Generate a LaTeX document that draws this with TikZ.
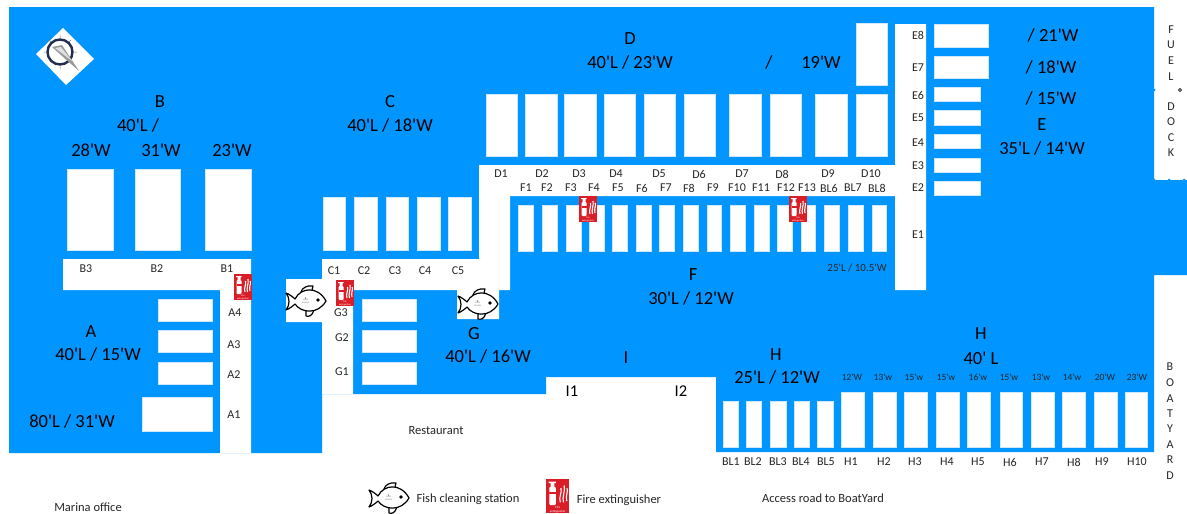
\documentclass[tikz,border=0pt]{standalone}
\usepackage{fontspec}
\setmainfont[Ligatures=TeXOff]{Carlito}
\definecolor{water}{RGB}{0,149,255}
\definecolor{slipedge}{RGB}{205,232,255}
\definecolor{firered}{RGB}{218,30,40}
\definecolor{navy}{RGB}{35,45,80}
\tikzset{
	slip/.style={fill=white,draw=slipedge,line width=.5pt},
	biglab/.style={font=\fontsize{18.5}{20}\selectfont,text=black,inner sep=0pt},
	lab/.style={font=\fontsize{12}{13}\selectfont,text=black!85,inner sep=0pt},
	tinylab/.style={font=\fontsize{9.5}{10}\selectfont,text=black!85,inner sep=0pt},
	note/.style={font=\fontsize{12.5}{14}\selectfont,text=black!85,inner sep=0pt},
	fishpic/.pic={
		\draw[line width=1.2pt,line join=round] (-5,-9) .. controls (-4,-13) and (1,-16) .. (7,-15)
		.. controls (5,-13) and (6,-11) .. (9,-8);
		\draw[line width=1.2pt,line join=round] (0,8) -- (0,15) .. controls (3,16) and (6,15) .. (8,9);
		\draw[line width=1.2pt,fill=white,line join=round] (-20,-8) .. controls (-17,-7) and (-13,-4) .. (-11,-2)
		.. controls (-5,-14) and (12,-15) .. (20,0)
		.. controls (12,14) and (-5,12) .. (-11,3)
		.. controls (-13,5) and (-17,8) .. (-20,9)
		.. controls (-16,4) and (-16,-3) .. cycle;
		\fill (12,-1) circle(1.8);
		\draw[gray,line width=.5pt] (-3,-2) -- (2,-2) (-4,1) -- (3,1) (-1,-4) -- (0,-2);
	},
	firepic/.pic={
		\fill[firered] (0,0) rectangle (17.5,26);
		\fill[white,rounded corners=1] (2.5,6) rectangle (7.5,20);
		\fill[white] (3.5,3) rectangle (6.5,6) (2,2) rectangle (7.5,3.2);
		\fill[firered] (2.5,10) rectangle (7.5,11.5);
		\draw[white,line width=1.1pt] (11,18) .. controls (9.5,14) and (12.5,11) .. (11.5,7)
		(13.5,18) .. controls (12,14) and (15,10) .. (14,5)
		(16,17) .. controls (14.8,13) and (17.2,10) .. (16.2,7);
		\node[transform shape,white,font=\fontsize{2.4}{2.6}\selectfont,align=center,inner sep=0pt] (firetext) at (9,23.5) {Fire\\extinguisher};
	}
}
\begin{document}
\begin{tikzpicture}[x=1pt,y=-1pt]
	\useasboundingbox[fill=white] (0,0) rectangle (1187,514);
	\fill[water] (9,7)--(1154,7)--(1154,180)--(1187,180)--(1187,275)--(1154,275)--(1154,452)--(716,452)--(716,377)--(546,377)--(546,394)--(322,394)--(322,453)--(9,453)--cycle;
	\fill[white] (63,259)--(251,259)--(251,453)--(220,453)--(220,290)--(63,290)--cycle;
	\fill[white] (322,259)--(479,259)--(479,165)--(895,165)--(895,24)--(926,24)--(926,290)--(895,290)--(895,196)--(510,196)--(510,290)--(353,290)--(353,394)--(322,394)--cycle;
	\fill[white] (286,279) rectangle (322,322) (457,289) rectangle (499,319);
	\fill[water] (1154,90) circle(1.5) (1154,180) circle(1.5) (1169,180) circle(1.5) (1184,180) circle(1.5);
	\draw[black!80,line width=.8pt] (1180,90) circle(1.5);
	\foreach \xa/\xb in {67/113,135/180,205/251}
		\draw[slip] (\xa,169) rectangle (\xb,250);
	\foreach \xa/\xb in {323/345,354/377,386/408,417/440,448/471}
		\draw[slip] (\xa,197) rectangle (\xb,250);
	\foreach \ya/\yb in {299/321,330/352,362/384}{
		\draw[slip] (158,\ya) rectangle (212,\yb);
		\draw[slip] (362,\ya) rectangle (416,\yb);
	}
	\draw[slip] (142,397) rectangle (212,431);
	\foreach \xa/\xb in {486/517,525/557,564/596,604/635,644/675,684/715,729/761,770/801,815/847,856/887}
		\draw[slip] (\xa,94) rectangle (\xb,156);
	\draw[slip] (856,23) rectangle (887,85);
	\foreach \xa/\xb in {518/533,542/557,566/581,589/604,612/627,636/651,659/674,683/698,707/721,730/745,754/769,777/792,801/815,824/839,848/863,872/886}
		\draw[slip] (\xa,205) rectangle (\xb,251);
	\draw[slip] (934,24) rectangle (988,47) (934,56) rectangle (988,78);
	\foreach \ya/\yb in {87/101,110/125,134/148,158/172,181/195}
		\draw[slip] (934,\ya) rectangle (980,\yb);
	\foreach \xa/\xb in {723/738,746/761,770/786,794/809,817/833}
		\draw[slip] (\xa,401) rectangle (\xb,447);
	\foreach \xa/\xb in {841/864,873/896,904/927,936/959,967/990,1000/1022,1031/1054,1062/1085,1094/1117,1125/1147}
		\draw[slip] (\xa,392) rectangle (\xb,447);
	\fill[white] (63,28)--(94,59)--(66,85)--(36,54)--cycle;
	\draw[navy,line width=2.4pt] (60,52) circle(12.5);
	\draw[gray,line width=.5pt] (60,35)--(60,38) (60,66)--(60,69) (44,52)--(46,52) (74,52)--(77,52) (49,40)--(51,42) (71,40)--(69,42);
	\fill[black!40] (52,47)--(62,45)--(79,71)--cycle;
	\fill[black!12] (55,48)--(61,47)--(72,61)--cycle;
	\pic at (306,301) {fishpic};
	\pic at (478,304) {fishpic};
	\pic at (389,498) {fishpic};
	\pic at (234,274) {firepic};
	\pic at (336,280) {firepic};
	\pic at (579,196) {firepic};
	\pic at (789,196) {firepic};
	\pic[scale=1.3] at (546,479) {firepic};
	\node[biglab] (bhead) at (160,102) {B};
	\node[biglab] (bsize) at (138,125) {40'L /};
	\node[biglab] (bw3) at (91,150) {28'W};
	\node[biglab] (bw2) at (161,150) {31'W};
	\node[biglab] (bw1) at (232,150) {23'W};
	\node[biglab] (chead) at (390,102) {C};
	\node[biglab] (csize) at (390,125) {40'L / 18'W};
	\node[biglab] (dhead) at (630,39) {D};
	\node[biglab] (dsize) at (630,62) {40'L / 23'W};
	\node[biglab] (dslash) at (769,62) {/};
	\node[biglab] (dw) at (821,62) {19'W};
	\node[biglab] (ew8) at (1053,35) {/ 21'W};
	\node[biglab] (ew7) at (1051,67) {/ 18'W};
	\node[biglab] (ew6) at (1051,98) {/ 15'W};
	\node[biglab] (ehead) at (1042,125) {E};
	\node[biglab] (esize) at (1042,148) {35'L / 14'W};
	\node[biglab] (ahead) at (91,332) {A};
	\node[biglab] (asize) at (98,354) {40'L / 15'W};
	\node[biglab] (alarge) at (72,421) {80'L / 31'W};
	\node[biglab] (ghead) at (474,334) {G};
	\node[biglab] (gsize) at (488,356) {40'L / 16'W};
	\node[biglab] (fhead) at (693,275) {F};
	\node[biglab] (fsize) at (691,298) {30'L / 12'W};
	\node[biglab] (ihead) at (626,358) {I};
	\node[biglab] (blhead) at (776,355) {H};
	\node[biglab] (blsize) at (777,377) {25'L / 12'W};
	\node[biglab] (hhead) at (981,334) {H};
	\node[biglab] (hsize) at (981,358) {40' L};
	\node[biglab,font=\fontsize{16.5}{18}\selectfont] (ione) at (572,391) {I1};
	\node[biglab,font=\fontsize{16.5}{18}\selectfont] (itwo) at (681,391) {I2};
	\node[lab,font=\fontsize{11}{12}\selectfont] (fnote) at (857,268) {25'L / 10.5'W};
	\foreach \x/\y/\t in {86/269/B3,157/269/B2,227/269/B1,334/271/C1,364/271/C2,395/271/C3,425/271/C4,458/271/C5,235/313/A4,234/345/A3,234/375/A2,234/415/A1,341/313/G3,342/338/G2,342/372/G1,918/35/E8,918/68/E7,918/95/E6,918/118/E5,918/143/E4,918/166/E3,918/188/E2,918/235/E1}
		\node[lab] (\t) at (\x,\y) {\t};
	\foreach \x/\t in {501/D1,542/D2,579/D3,616/D4,659/D5,699/D6,742/D7,782/D8,828/D9,871/D10}
		\node[lab] (\t) at (\x,174) {\t};
	\foreach \x/\t in {526/F1,547/F2,571/F3,594/F4,618/F5,642/F6,666/F7,689/F8,713/F9,737/F10,761/F11,786/F12,807/F13,829/BL6,853/BL7,877/BL8}
		\node[lab] (\t) at (\x,188) {\t};
	\foreach \x/\t in {731/BL1,753/BL2,778/BL3,801/BL4,826/BL5,851/H1,884/H2,915/H3,947/H4,978/H5,1010/H6,1042/H7,1074/H8,1102/H9,1137/H10}
		\node[lab] (\t) at (\x,462) {\t};
	\foreach \x/\t [count=\n] in {852/12'W,883/13'w,914/15'w,946/15'w,978/16'w,1009/15'w,1041/13'w,1072/14'w,1105/20'W,1137/23'W}
		\node[tinylab] (hw\n) at (\x,377) {\t};
	\foreach \y/\t [count=\n] in {30/F,45/U,61/E,77/L,107/D,122/O,138/C,153/K}
		\node[lab] (fuel\n) at (1171,\y) {\t};
	\foreach \y/\t [count=\n] in {367/B,383/O,399/A,414/T,429/Y,445/A,460/R,476/D}
		\node[lab] (yard\n) at (1170,\y) {\t};
	\node[note] (restaurant) at (436,431) {Restaurant};
	\node[note] (office) at (88,507) {Marina office};
	\node[note] (fishkey) at (468,499) {Fish cleaning station};
	\node[note] (firekey) at (619,500) {Fire extinguisher};
	\node[note] (road) at (823,498) {Access road to BoatYard};
\end{tikzpicture}
\end{document}
